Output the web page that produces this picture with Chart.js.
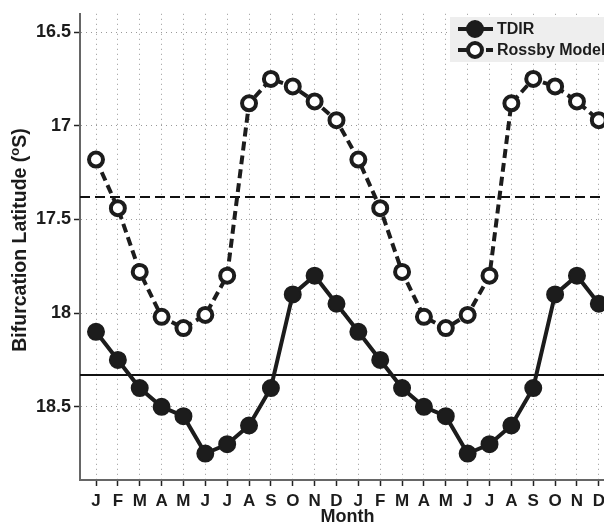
<!DOCTYPE html>
<html>
<head>
<meta charset="utf-8">
<script src="https://cdn.jsdelivr.net/npm/chart.js@4.4.1/dist/chart.umd.min.js"></script>
<style>
html,body{margin:0;padding:0;overflow:hidden;background:#fff;width:604px;height:526px}
#wrap{width:640px;height:526px}
canvas{display:block}
</style>
</head>
<body>
<div id="wrap"><canvas id="c" width="640" height="526"></canvas></div>
<script>
// ---- data ----
const months = ['J','F','M','A','M','J','J','A','S','O','N','D','J','F','M','A','M','J','J','A','S','O','N','D'];
const tdirValues = [18.10,18.25,18.40,18.50,18.55,18.75,18.70,18.60,18.40,17.90,17.80,17.95,
                    18.10,18.25,18.40,18.50,18.55,18.75,18.70,18.60,18.40,17.90,17.80,17.95];
const rossbyValues = [17.18,17.44,17.78,18.02,18.08,18.01,17.80,16.88,16.75,16.79,16.87,16.97,
                      17.18,17.44,17.78,18.02,18.08,18.01,17.80,16.88,16.75,16.79,16.87,16.97];
const yTickValues = [16.5,17,17.5,18,18.5];
const yTickLabels = ['16.5','17','17.5','18','18.5'];
const seriesNames = ['TDIR','Rossby Model'];
const rossbyMean = 17.38;
const tdirMean = 18.33;

const INK = '#1c1c1c';
const FONT = '"Liberation Sans", Arial, Helvetica, sans-serif';

const decor = {
  id: 'decor',
  beforeDatasetsDraw(chart) {
    const {ctx, chartArea: a, scales: {y}} = chart;
    ctx.save();
    ctx.strokeStyle = '#111';
    ctx.lineWidth = 2;
    [[rossbyMean, [10, 5]], [tdirMean, []]].forEach(([v, d]) => {
      const py = Math.round(y.getPixelForValue(v));
      ctx.setLineDash(d);
      ctx.beginPath();
      ctx.moveTo(a.left, py);
      ctx.lineTo(a.right, py);
      ctx.stroke();
    });
    ctx.restore();
  },
  afterDraw(chart) {
    const {ctx, chartArea: a} = chart;
    ctx.save();
    // legend
    ctx.fillStyle = '#eeeeee';
    ctx.fillRect(450, 17, 200, 45);
    chart.data.datasets.forEach((ds, i) => {
      const yy = 29 + i * 21;
      ctx.save();
      ctx.strokeStyle = ds.borderColor;
      ctx.lineWidth = ds.borderWidth;
      ctx.setLineDash(ds.borderDash || []);
      ctx.beginPath();
      ctx.moveTo(458, yy);
      ctx.lineTo(493, yy);
      ctx.stroke();
      ctx.setLineDash([]);
      ctx.beginPath();
      ctx.arc(475, yy, ds.pointRadius, 0, Math.PI * 2);
      ctx.fillStyle = ds.pointBackgroundColor;
      ctx.fill();
      ctx.lineWidth = ds.pointBorderWidth;
      ctx.strokeStyle = ds.pointBorderColor;
      ctx.stroke();
      ctx.restore();
      ctx.fillStyle = INK;
      ctx.font = 'bold 16px ' + FONT;
      ctx.textBaseline = 'middle';
      ctx.textAlign = 'left';
      ctx.fillText(ds.label, 497, yy + 1);
    });
    // x title
    ctx.fillStyle = INK;
    ctx.font = 'bold 18px ' + FONT;
    ctx.textAlign = 'center';
    ctx.textBaseline = 'middle';
    ctx.fillText('Month', (a.left + a.right) / 2, 517);
    // y title with superscript
    ctx.translate(21, 240);
    ctx.rotate(-Math.PI / 2);
    const mainFont = 'bold 19.5px ' + FONT, supFont = 'bold 13px ' + FONT;
    const p1 = 'Bifurcation Latitude (', sup = 'o', p2 = 'S)';
    ctx.font = mainFont; const w1 = ctx.measureText(p1).width, w2 = ctx.measureText(p2).width;
    ctx.font = supFont; const ws = ctx.measureText(sup).width;
    let x0 = -(w1 + ws + w2) / 2;
    ctx.textAlign = 'left';
    ctx.textBaseline = 'middle';
    ctx.font = mainFont; ctx.fillText(p1, x0, 0); x0 += w1;
    ctx.font = supFont; ctx.fillText(sup, x0, -6); x0 += ws;
    ctx.font = mainFont; ctx.fillText(p2, x0, 0);
    ctx.restore();
  }
};

const toPts = arr => arr.map((v, i) => ({x: i + 1, y: v}));

new Chart(document.getElementById('c'), {
  type: 'line',
  data: {
    datasets: [
      {
        label: seriesNames[0],
        data: toPts(tdirValues),
        borderColor: INK, borderWidth: 4, borderDash: [],
        pointRadius: 8, pointBorderWidth: 2,
        pointBackgroundColor: INK, pointBorderColor: INK,
        tension: 0
      },
      {
        label: seriesNames[1],
        data: toPts(rossbyValues),
        borderColor: INK, borderWidth: 4, borderDash: [9, 5],
        pointRadius: 7, pointBorderWidth: 4,
        pointBackgroundColor: '#ffffff', pointBorderColor: INK,
        tension: 0
      }
    ]
  },
  options: {
    responsive: false,
    animation: false,
    devicePixelRatio: 1,
    layout: {padding: {top: 12, right: 25, left: 0, bottom: 0}},
    plugins: {legend: {display: false}, tooltip: {enabled: false}},
    scales: {
      x: {
        type: 'linear',
        min: 0.268, max: 24.74,
        afterBuildTicks: s => { s.ticks = months.map((m, i) => ({value: i + 1})); },
        afterFit: s => { s.height = 46; s.paddingLeft = 0; s.paddingRight = 0; },
        ticks: {
          autoSkip: false, maxRotation: 0, padding: 5,
          color: INK, font: {family: FONT, size: 17, weight: 'bold'},
          callback: (v, i) => months[i]
        },
        grid: {
          color: '#999', lineWidth: 1, tickLength: 6,
          tickColor: '#222', tickWidth: 1.5, tickBorderDash: []
        },
        border: {display: true, color: '#666', width: 2, dash: [1, 4]}
      },
      y: {
        type: 'linear',
        reverse: true,
        min: 16.402, max: 18.891,
        afterBuildTicks: s => { s.ticks = yTickValues.map(v => ({value: v})); },
        afterFit: s => { s.width = 80; },
        ticks: {
          padding: 3,
          color: INK, font: {family: FONT, size: 18, weight: 'bold'},
          callback: (v, i) => yTickLabels[i]
        },
        grid: {
          color: '#999', lineWidth: 1, tickLength: 6,
          tickColor: '#222', tickWidth: 1.5, tickBorderDash: []
        },
        border: {display: true, color: '#666', width: 2, dash: [1, 4]}
      }
    }
  },
  plugins: [decor]
});
</script>
</body>
</html>
